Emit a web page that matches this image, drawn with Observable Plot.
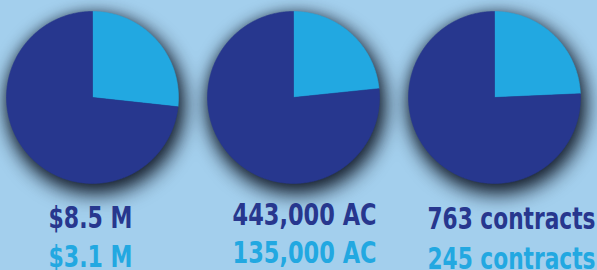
<!DOCTYPE html>
<html>
<head>
<meta charset="utf-8">
<script src="https://cdn.jsdelivr.net/npm/d3@7"></script>
<script src="https://cdn.jsdelivr.net/npm/@observablehq/plot@0.6"></script>
<style>
  html, body { margin: 0; padding: 0; background: #a3cfed; }
  #chart svg g[aria-label="line"] { filter: drop-shadow(3px 7px 10px rgba(12,18,32,0.95)) drop-shadow(0px 2px 6px rgba(12,18,32,0.45)); }
  #chart svg g[aria-label="text"] text { font-stretch: condensed; }
</style>
</head>
<body>
<div id="chart"></div>
<script>
// Data
const metrics = ["Funding", "Acres", "Contracts"];
const darkValues = [8.5, 443000, 763];
const lightValues = [3.1, 135000, 245];
const darkLabels = ["$8.5 M", "443,000 AC", "763 contracts"];
const lightLabels = ["$3.1 M", "135,000 AC", "245 contracts"];

// Layout (pixels)
const W = 597, H = 270;
const pieCX = [92, 293, 494];
const pieCY = 97;
const R = 86;
const labelCX = [90, 304, 511];
const labelWidth = [84, 144, 168];
const darkBaseline = [227, 224, 228];
const lightBaseline = [266, 262, 268];
const FS = 31;

const dark = "#27378e", light = "#22a8e1";

// Build wedge polygons from data
const wedges = [];
metrics.forEach((m, i) => {
  const total = darkValues[i] + lightValues[i];
  const frac = lightValues[i] / total;
  const slices = [
    {name: "light", a0: 0, a1: frac * 2 * Math.PI},
    {name: "dark", a0: frac * 2 * Math.PI, a1: 2 * Math.PI}
  ];
  slices.forEach(s => {
    const key = m + "-" + s.name;
    wedges.push({key, kind: s.name, x: pieCX[i], y: pieCY});
    const n = Math.max(2, Math.ceil((s.a1 - s.a0) / 0.01));
    for (let k = 0; k <= n; k++) {
      const a = s.a0 + (s.a1 - s.a0) * k / n;
      wedges.push({key, kind: s.name, x: pieCX[i] + R * Math.sin(a), y: pieCY - R * Math.cos(a)});
    }
    wedges.push({key, kind: s.name, x: pieCX[i], y: pieCY});
  });
});

const labels = [];
metrics.forEach((m, i) => {
  labels.push({text: darkLabels[i], kind: "dark", i, x: labelCX[i], y: darkBaseline[i] - 0.32 * FS});
  labels.push({text: lightLabels[i], kind: "light", i, x: labelCX[i], y: lightBaseline[i] - 0.32 * FS});
});

const chart = Plot.plot({
  width: W,
  height: H,
  margin: 0,
  x: {domain: [0, W], range: [0, W], axis: null},
  y: {domain: [0, H], range: [0, H], axis: null},
  style: {background: "#a3cfed", overflow: "visible"},
  marks: [
    Plot.line(wedges, {
      x: "x", y: "y", z: "key",
      fill: d => d.kind === "dark" ? dark : light,
      stroke: d => d.kind === "dark" ? dark : light,
      strokeWidth: 0.6,
      curve: "linear"
    }),
    Plot.text(labels, {
      x: "x", y: "y", text: "text",
      fill: d => d.kind === "dark" ? dark : light,
      fontSize: FS,
      fontWeight: "bold",
      fontFamily: "'DejaVu Sans Condensed', 'DejaVu Sans', sans-serif",
      textAnchor: "middle",
      lineAnchor: "middle"
    })
  ]
});
document.getElementById("chart").appendChild(chart);
// Fit label widths to the reference layout
d3.select(chart).selectAll('g[aria-label="text"] text').each(function(d, k) {
  const lab = labels[k];
  if (lab) {
    this.setAttribute("textLength", labelWidth[lab.i]);
    this.setAttribute("lengthAdjust", "spacingAndGlyphs");
  }
});
</script>
</body>
</html>
